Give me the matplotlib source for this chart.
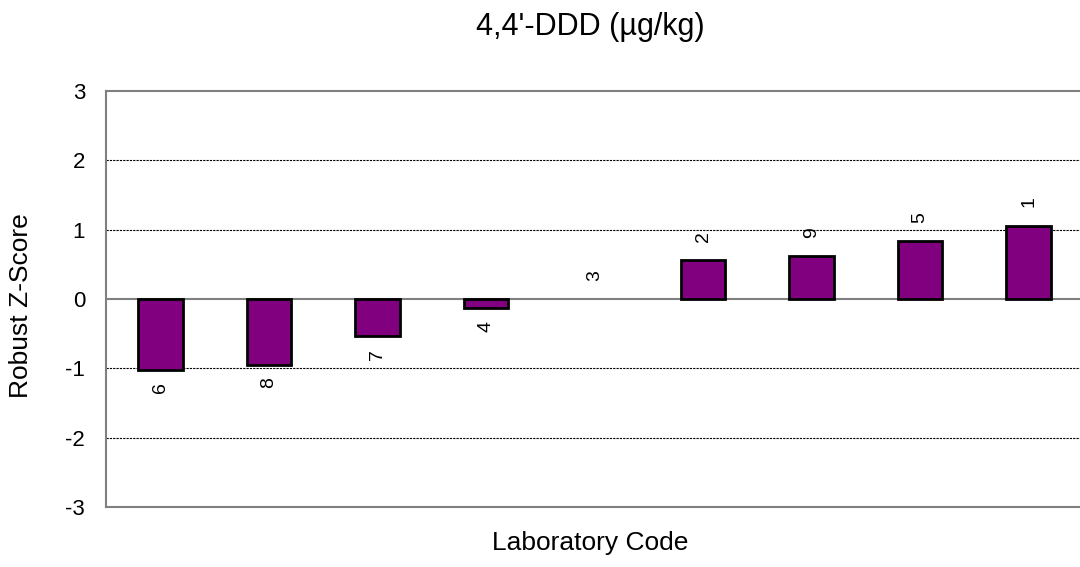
import matplotlib.pyplot as plt
import numpy as np

plt.rcParams['font.family'] = ['Liberation Sans', 'DejaVu Sans']
plt.rcParams['axes.unicode_minus'] = False

# Laboratory codes (sorted by score) and their robust z-scores
lab_codes = ["6", "8", "7", "4", "3", "2", "9", "5", "1"]
z_scores = [-1.02, -0.95, -0.54, -0.13, 0.0, 0.56, 0.62, 0.84, 1.06]

fig = plt.figure(figsize=(10.8, 5.67), dpi=100)
# right edge of the plot area lies just past the picture edge
ax = fig.add_axes([106/1080, 60/567, 977/1080, 416/567])

x = np.arange(len(lab_codes))
edge_w = [2 if v != 0 else 0 for v in z_scores]   # a zero score shows no bar
ax.bar(x, z_scores, width=0.41, color="#800080", edgecolor="black",
       linewidth=edge_w, zorder=3)

# rotated code labels just beyond the bar end
for xi, v, code in zip(x, z_scores, lab_codes):
    off = -13 if v < 0 else 17
    ax.annotate(code, (xi, v), xytext=(0, off), textcoords="offset points",
                ha="center", va="center", rotation=90, fontsize=14)

ax.set_xlim(-0.5, len(lab_codes) - 0.5)
ax.set_ylim(-3, 3)
ax.set_yticks(range(-3, 4))
ax.set_xticks([])
ax.tick_params(axis="y", length=0, pad=15, labelsize=16)

for g in [-2, -1, 1, 2]:
    ax.axhline(g, color="black", linestyle=(0, (2, 1)), linewidth=0.8, zorder=1)
ax.axhline(0, color="#808080", linewidth=1.5, zorder=2)

for s in ax.spines.values():
    s.set_color("#808080")
    s.set_linewidth(1.5)

fig.text(21/1080, 1 - 306/567, "Robust Z-Score", rotation=90,
         ha="center", va="center", fontsize=19)
fig.text(590/1080, 1 - 543/567, "Laboratory Code", ha="center", va="center",
         fontsize=19)
fig.text(590/1080, 1 - 27/567, "4,4'-DDD (µg/kg)", ha="center", va="center",
         fontsize=22)

plt.savefig("out.png", dpi=100)
